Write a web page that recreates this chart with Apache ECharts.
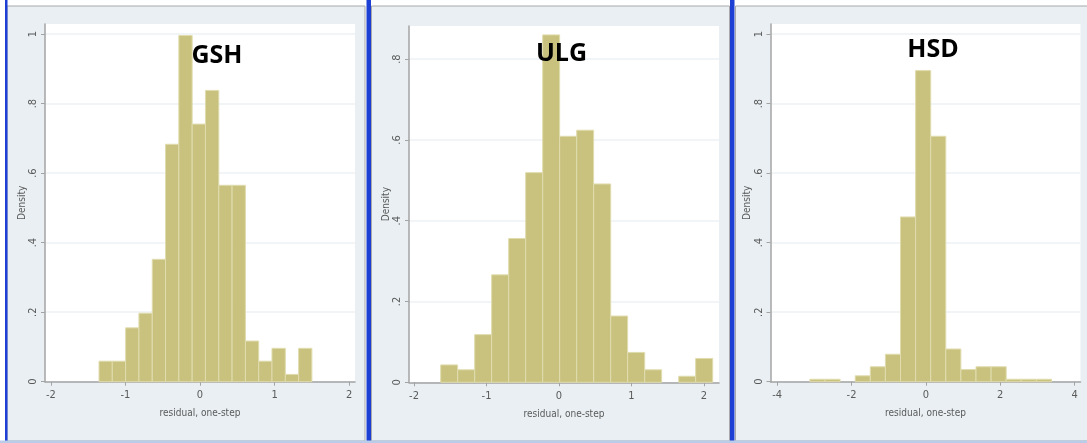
<!DOCTYPE html>
<html>
<head>
<meta charset="utf-8">
<script src="https://cdn.jsdelivr.net/npm/echarts@6/dist/echarts.min.js"></script>
<style>
html,body{margin:0;padding:0;background:#fff;}
#c{width:1087px;height:443px;}
</style>
</head>
<body>
<div id="c"></div>
<script>
// ---- data ----
var panelTitles = ['GSH', 'ULG', 'HSD'];
var xTitle = 'residual, one-step';
var yTitle = 'Density';

var gshEdges = [-1.354, -1.176, -0.997, -0.819, -0.640, -0.462, -0.284, -0.105, 0.073, 0.252, 0.430, 0.609, 0.787, 0.965, 1.144, 1.322, 1.500];
var gshDensity = [0.059, 0.059, 0.155, 0.197, 0.352, 0.683, 0.996, 0.741, 0.838, 0.565, 0.565, 0.117, 0.059, 0.096, 0.021, 0.096];

var ulgEdges = [-1.632, -1.398, -1.163, -0.929, -0.694, -0.460, -0.225, 0.009, 0.244, 0.478, 0.713, 0.947, 1.182, 1.416, 1.651, 1.885, 2.120];
var ulgDensity = [0.043, 0.031, 0.118, 0.266, 0.356, 0.519, 0.860, 0.609, 0.624, 0.491, 0.164, 0.074, 0.031, 0, 0.015, 0.059];

var hsdEdges = [-3.120, -2.714, -2.308, -1.901, -1.495, -1.089, -0.683, -0.276, 0.130, 0.536, 0.942, 1.349, 1.755, 2.161, 2.567, 2.974, 3.380];
var hsdDensity = [0.007, 0.007, 0, 0.017, 0.043, 0.079, 0.474, 0.895, 0.706, 0.094, 0.035, 0.043, 0.043, 0.007, 0.007, 0.007];

var xTicks1 = [-2, -1, 0, 1, 2];
var xTicks2 = [-2, -1, 0, 1, 2];
var xTicks3 = [-4, -2, 0, 2, 4];
var yTicks1 = [0, 0.2, 0.4, 0.6, 0.8, 1];
var yTicks2 = [0, 0.2, 0.4, 0.6, 0.8];
var yTicks3 = [0, 0.2, 0.4, 0.6, 0.8, 1];

// ---- build ----
function bins(edges, dens) {
  var out = [];
  for (var i = 0; i < dens.length; i++) {
    if (dens[i] > 0) out.push([edges[i], edges[i + 1], dens[i]]);
  }
  return out;
}
var FONT = '"Liberation Sans Narrow", "DejaVu Sans Condensed", "Liberation Sans", sans-serif';
var AX = '#a3a3a3';
var LBL = '#5a5a5a';
function yFmt(v) {
  if (Math.abs(v) < 1e-9) return '0';
  if (Math.abs(v - 1) < 1e-9) return '1';
  return String(Math.round(v * 10) / 10).replace(/^0/, '');
}
var grids = [
  {left: 45, top: 24, width: 310, height: 357.7},
  {left: 409, top: 26, width: 310, height: 356.3},
  {left: 770.5, top: 24, width: 310, height: 357.7}
];
var xRanges = [[-2.078, 2.078], [-2.069, 2.207], [-4.18, 4.16]];
var yMax = [1.029, 0.882, 1.029];
var xT = [xTicks1, xTicks2, xTicks3];
var yT = [yTicks1, yTicks2, yTicks3];
var allBins = [bins(gshEdges, gshDensity), bins(ulgEdges, ulgDensity), bins(hsdEdges, hsdDensity)];
var titleX = [212, 556.5, 928];
var titleTop = [38, 36, 32];

var xAxes = [], yAxes = [], series = [], titles = [];
for (var k = 0; k < 3; k++) {
  grids[k].show = true;
  grids[k].backgroundColor = '#ffffff';
  grids[k].borderWidth = 0;
  xAxes.push({
    gridIndex: k, type: 'value', min: xRanges[k][0], max: xRanges[k][1],
    name: xTitle, nameLocation: 'middle', nameGap: 27,
    nameTextStyle: {fontFamily: FONT, fontSize: 10, color: LBL},
    axisLine: {show: true, onZero: false, lineStyle: {color: AX, width: 1.5}},
    axisTick: {show: true, length: 4, lineStyle: {color: AX}, customValues: xT[k]},
    axisLabel: {customValues: xT[k], fontFamily: FONT, fontSize: 11, color: LBL, margin: 8,
      formatter: function (v) { return String(v); }},
    splitLine: {show: false}
  });
  yAxes.push({
    gridIndex: k, type: 'value', min: 0, max: yMax[k],
    name: yTitle, nameLocation: 'middle', nameRotate: 90, nameGap: 15,
    nameTextStyle: {fontFamily: FONT, fontSize: 10, color: LBL},
    axisLine: {show: true, onZero: false, lineStyle: {color: AX, width: 1.5}},
    axisTick: {show: true, length: 4, lineStyle: {color: AX}, customValues: yT[k]},
    axisLabel: {customValues: yT[k], rotate: 90, fontFamily: FONT, fontSize: 11, color: LBL, margin: 6,
      formatter: yFmt},
    splitLine: {show: true, lineStyle: {color: '#edf2f4', width: 1.5}}
  });
  series.push({
    type: 'custom', xAxisIndex: k, yAxisIndex: k,
    encode: {x: [0, 1], y: 2},
    data: allBins[k],
    renderItem: function (params, api) {
      var p0 = api.coord([api.value(0), api.value(2)]);
      var p1 = api.coord([api.value(1), 0]);
      return {type: 'rect',
        shape: {x: p0[0], y: p0[1], width: p1[0] - p0[0], height: p1[1] - p0[1]},
        style: {fill: '#c9c27f', stroke: '#e0dcae', lineWidth: 1}};
    },
    z: 3
  });
  titles.push({
    text: panelTitles[k], left: titleX[k], top: titleTop[k], textAlign: 'center',
    textStyle: {fontFamily: '"Open Sans", "Noto Sans", sans-serif', fontWeight: 'bold', fontSize: 25, color: '#000'}
  });
}

var panelBg = '#e9eff2';
var graphics = [
  {type: 'rect', shape: {x: 7, y: 6, width: 358, height: 435}, style: {fill: panelBg, stroke: '#a9a9a9', lineWidth: 1}, z: -10},
  {type: 'rect', shape: {x: 371.5, y: 6, width: 358, height: 435}, style: {fill: panelBg, stroke: '#a9a9a9', lineWidth: 1}, z: -10},
  {type: 'rect', shape: {x: 735.5, y: 6, width: 353, height: 435}, style: {fill: panelBg, stroke: '#a9a9a9', lineWidth: 1}, z: -10},
  {type: 'rect', shape: {x: 5, y: 0, width: 2.5, height: 443}, style: {fill: '#1d3fd3'}, z: -9},
  {type: 'rect', shape: {x: 366.5, y: 0, width: 4.5, height: 443}, style: {fill: '#1d3fd3'}, z: -9},
  {type: 'rect', shape: {x: 730, y: 0, width: 4.5, height: 443}, style: {fill: '#1d3fd3'}, z: -9},
  {type: 'rect', shape: {x: 0, y: 440.5, width: 1087, height: 2.5}, style: {fill: '#b9cdea'}, z: -9}
];

var chart = echarts.init(document.getElementById('c'), null, {renderer: 'canvas'});
chart.setOption({
  backgroundColor: '#ffffff',
  animation: false,
  title: titles,
  grid: grids,
  xAxis: xAxes,
  yAxis: yAxes,
  series: series,
  graphic: graphics
});
</script>
</body>
</html>
